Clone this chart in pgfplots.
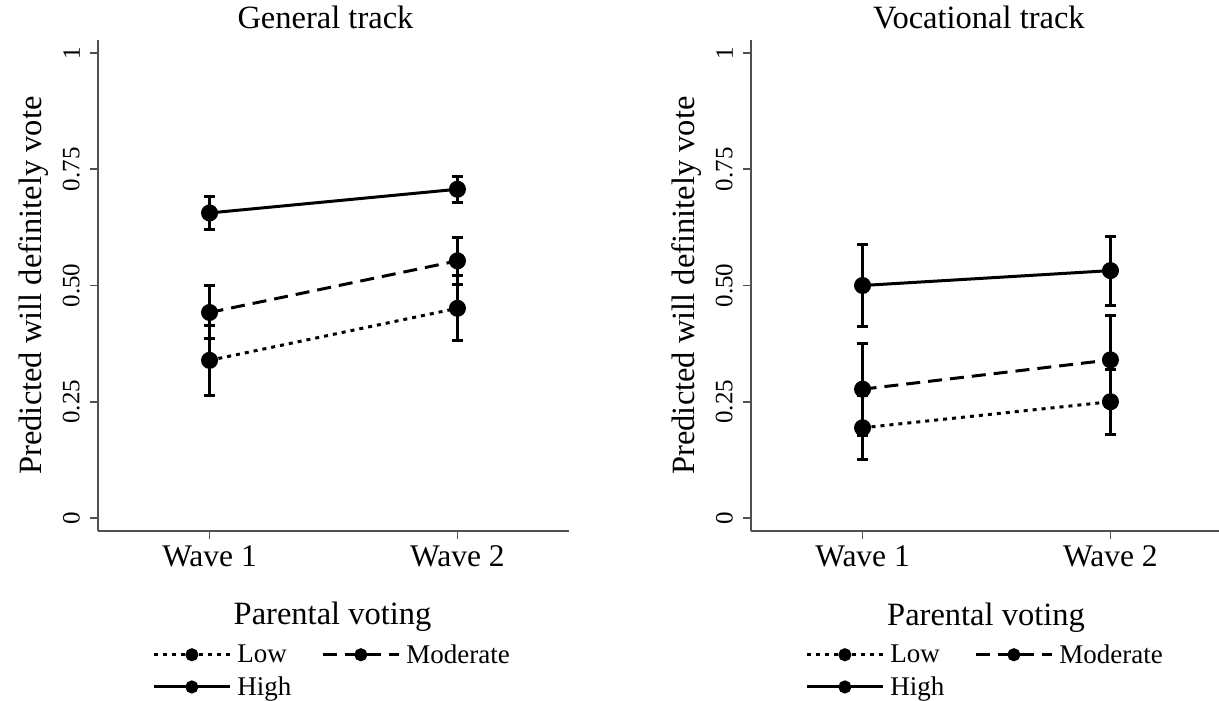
\documentclass[border=0pt]{standalone}
\usepackage{fontspec}
\setmainfont{Liberation Serif}
\usepackage{pgfplots}
\pgfplotsset{compat=1.18}

\definecolor{axgray}{HTML}{505050}

\pgfplotsset{
  panel/.style={
    scale only axis, width=471bp, height=491bp,
    xmin=0.55, xmax=2.45, ymin=-0.028, ymax=1.028,
    axis x line*=bottom, axis y line*=left,
    axis line style={draw=axgray, line width=1.6bp},
    tick style={draw=axgray, line width=1.6bp},
    major tick length=8bp, tick align=outside,
    xtick={1,2}, xticklabels={Wave 1, Wave 2},
    ytick={0,0.25,0.5,0.75,1}, yticklabels={0,0.25,0.50,0.75,1},
    xticklabel style={font=\fontsize{31.5bp}{36bp}\selectfont, anchor=base, inner sep=0pt},
    yticklabel style={font=\fontsize{25bp}{30bp}\selectfont, rotate=90, anchor=south, inner sep=0pt},
    xticklabel shift=27bp, yticklabel shift=10bp,
    ylabel={Predicted will definitely vote},
    ylabel style={at={(axis description cs:-0.119,0.5)}, anchor=base, rotate=0, inner sep=0pt,
      font=\fontsize{32.5bp}{38bp}\selectfont},
    title style={anchor=base, inner sep=0pt, font=\fontsize{32.5bp}{38bp}\selectfont},
    clip=false,
    legend columns=2,
    legend cell align=left,
    legend style={draw=none, fill=none, inner sep=0pt,
      at={(axis description cs:0.115,-0.231)}, anchor=north west,
      font=\fontsize{27bp}{30bp}\selectfont,
      nodes={inner sep=0pt},
      /tikz/column sep=6bp,
      /tikz/every even column/.append style={column sep=30bp},
      row sep=12bp},
    legend image code/.code={
      \draw[mark repeat=2, mark phase=2, #1, mark size=5bp]
        plot coordinates {(0bp,0bp) (38bp,0bp) (76bp,0bp)};},
  },
  serie/.style={black, line width=3bp, mark=*, mark size=7bp, mark options={solid},
    error bars/y dir=both, error bars/y explicit,
    error bars/error bar style={solid, line width=3bp},
    error bars/error mark options={rotate=90, mark size=5.5bp, line width=3bp, solid}},
  low/.style={serie, dash pattern=on 4bp off 5bp},
  mod/.style={serie, dash pattern=on 14bp off 8bp},
  high/.style={serie, solid},
}

\begin{document}
\begin{tikzpicture}
\path[use as bounding box] (0,0) rectangle (1219bp,701bp);

% General track
\begin{axis}[panel, at={(98bp,170bp)}, anchor=south west,
  title={General track}, title style={at={(0.483,1)}, yshift=6bp}]
\addplot[low] coordinates {(1,0.339) +- (0,0.076) (2,0.451) +- (0,0.070)};
\addlegendentry{Low}
\addplot[mod] coordinates {(1,0.442) +- (0,0.057) (2,0.553) +- (0,0.050)};
\addlegendentry{Moderate}
\addplot[high] coordinates {(1,0.656) +- (0,0.035) (2,0.707) +- (0,0.028)};
\addlegendentry{High}
\node[anchor=base, inner sep=0pt, font=\fontsize{32.5bp}{38bp}\selectfont]
  at (axis description cs:0.498,-0.191) {Parental voting};
\end{axis}

% Vocational track
\begin{axis}[panel, at={(751bp,170bp)}, anchor=south west,
  title={Vocational track}, title style={at={(0.484,1)}, yshift=6bp}]
\addplot[low] coordinates {(1,0.194) +- (0,0.069) (2,0.250) +- (0,0.070)};
\addlegendentry{Low}
\addplot[mod] coordinates {(1,0.277) +- (0,0.099) (2,0.340) +- (0,0.095)};
\addlegendentry{Moderate}
\addplot[high] coordinates {(1,0.500) +- (0,0.088) (2,0.532) +- (0,0.074)};
\addlegendentry{High}
\node[anchor=base, inner sep=0pt, font=\fontsize{32.5bp}{38bp}\selectfont]
  at (axis description cs:0.499,-0.193) {Parental voting};
\end{axis}
\end{tikzpicture}
\end{document}
